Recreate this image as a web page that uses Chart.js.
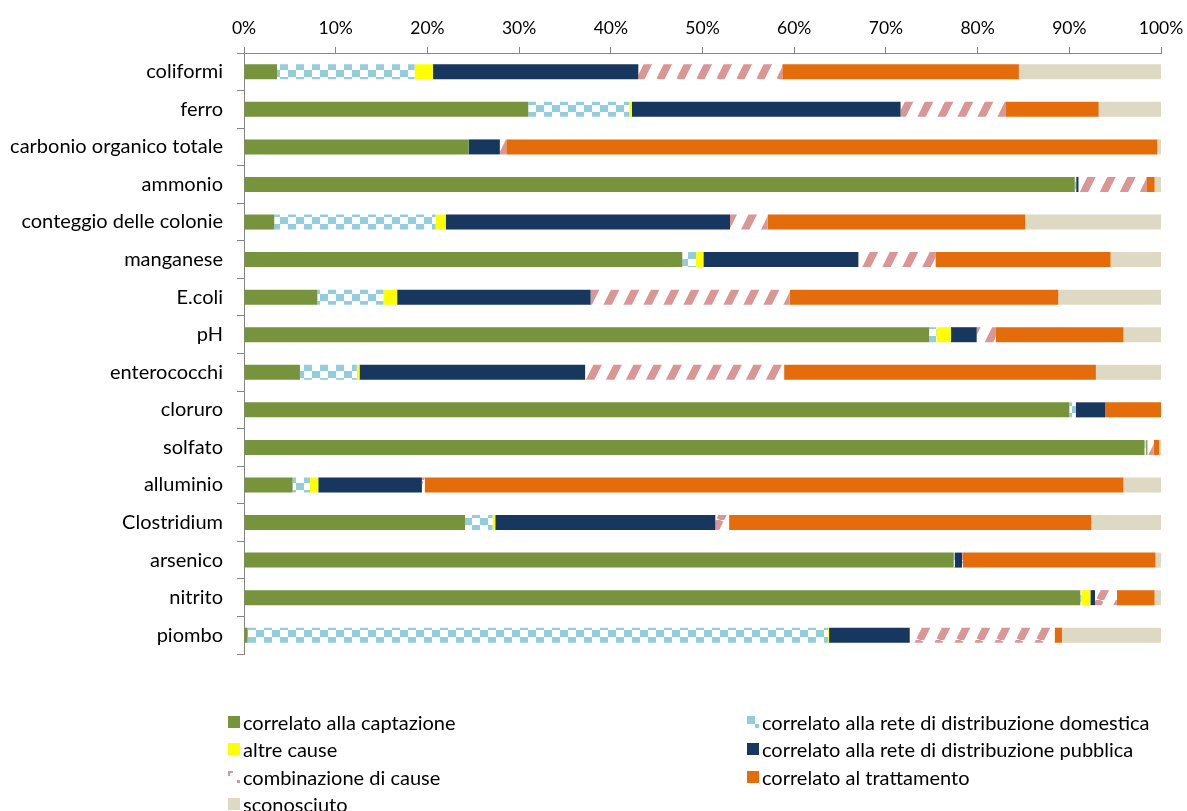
<!DOCTYPE html>
<html>
<head>
<meta charset="utf-8">
<script src="https://cdn.jsdelivr.net/npm/chart.js@4.4.1/dist/chart.umd.min.js"></script>
<style>
  html, body { margin: 0; padding: 0; background: #ffffff; }
  #wrap { position: relative; width: 1187px; height: 811px; }
  #legend { position: absolute; left: 0; top: 0; width: 1187px; height: 811px; pointer-events: none;
            font-family: Lato, "Open Sans", sans-serif; font-size: 20px; color: #000; }
  .item { position: absolute; height: 26px; line-height: 26px; white-space: nowrap; }
  .item canvas { position: absolute; left: 0; top: 7px; }
  .item span { position: absolute; left: 15px; top: 0; }
</style>
</head>
<body>
<div id="wrap">
  <canvas id="chart" width="1187" height="811"></canvas>
  <div id="legend"></div>
</div>
<script>
// ---- data ----
const categories = ['coliformi', 'ferro', 'carbonio organico totale', 'ammonio', 'conteggio delle colonie',
  'manganese', 'E.coli', 'pH', 'enterococchi', 'cloruro', 'solfato', 'alluminio', 'Clostridium',
  'arsenico', 'nitrito', 'piombo'];

const seriesNames = ['correlato alla captazione', 'correlato alla rete di distribuzione domestica',
  'altre cause', 'correlato alla rete di distribuzione pubblica', 'combinazione di cause',
  'correlato al trattamento', 'sconosciuto'];

const captazione   = [3.6, 31.0, 24.5, 90.6, 3.3, 47.8, 8.0, 74.7, 6.1, 90.0, 98.2, 5.3, 24.1, 77.4, 91.2, 0.4];
const domestica    = [15.0, 11.0, 0, 0.15, 17.6, 1.5, 7.2, 0.8, 6.2, 0.7, 0.1, 1.9, 3.0, 0.1, 0.1, 63.3];
const altreCause   = [2.0, 0.3, 0, 0, 1.1, 0.8, 1.5, 1.6, 0.3, 0, 0.1, 0.9, 0.3, 0, 1.0, 0.1];
const pubblica     = [22.4, 29.3, 3.4, 0.25, 31.0, 16.9, 21.1, 2.8, 24.6, 3.2, 0.1, 11.3, 24.0, 0.8, 0.5, 8.8];
const combinazione = [15.7, 11.5, 0.7, 7.4, 4.1, 8.4, 21.7, 2.1, 21.7, 0, 0.7, 0.3, 1.5, 0.1, 2.4, 15.8];
const trattamento  = [25.8, 10.1, 71.0, 0.9, 28.1, 19.1, 29.3, 13.9, 34.0, 6.1, 0.6, 76.2, 39.5, 21.0, 4.1, 0.8];
const sconosciuto  = [15.5, 6.8, 0.4, 0.7, 14.8, 5.5, 11.2, 4.1, 7.1, 0, 0.2, 4.1, 7.6, 0.6, 0.7, 10.8];

const tickLabels = ['0%', '10%', '20%', '30%', '40%', '50%', '60%', '70%', '80%', '90%', '100%'];

// ---- styles ----
const FONT = 'Lato, "Open Sans", sans-serif';
const AXIS = '#868686';

function checkerPattern() {
  const c = document.createElement('canvas'); c.width = 16; c.height = 14;
  const g = c.getContext('2d');
  g.fillStyle = '#ffffff'; g.fillRect(0, 0, 16, 14);
  g.fillStyle = '#93CDDD';
  g.fillRect(0, 0, 8, 7); g.fillRect(8, 7, 8, 7);
  return c;
}
function hatchPattern() {
  const c = document.createElement('canvas'); c.width = 20; c.height = 40;
  const g = c.getContext('2d');
  g.fillStyle = '#ffffff'; g.fillRect(0, 0, 20, 40);
  g.strokeStyle = '#D99694'; g.lineWidth = 7.5;
  for (let x0 = -20; x0 <= 20; x0 += 20) {
    g.beginPath(); g.moveTo(x0, 40); g.lineTo(x0 + 20, 0); g.stroke();
  }
  return c;
}
const ctx = document.getElementById('chart').getContext('2d');
const checkTile = checkerPattern();
const hatchTile = hatchPattern();
const fills = [
  '#77933C',
  ctx.createPattern(checkTile, 'repeat'),
  '#FFFF00',
  '#17375E',
  ctx.createPattern(hatchTile, 'repeat'),
  '#E46C0A',
  '#DDD9C3'
];
const seriesData = [captazione, domestica, altreCause, pubblica, combinazione, trattamento, sconosciuto];

const datasets = seriesData.map((d, i) => ({
  label: seriesNames[i],
  data: d,
  backgroundColor: fills[i],
  borderWidth: 0,
  barPercentage: 0.4,
  categoryPercentage: 1.0
}));

const CHART_LEFT = 244, CHART_TOP = 53;

new Chart(ctx, {
  type: 'bar',
  data: { labels: categories, datasets: datasets },
  options: {
    indexAxis: 'y',
    responsive: false,
    animation: false,
    layout: { padding: { left: 0, top: 0, right: 26, bottom: 157 } },
    plugins: { legend: { display: false }, tooltip: { enabled: false } },
    scales: {
      x: {
        position: 'top',
        stacked: true,
        min: 0, max: 100,
        ticks: {
          stepSize: 10,
          padding: 8,
          color: '#000',
          font: { family: FONT, size: 17.5 },
          callback: (v, i) => tickLabels[i]
        },
        grid: { drawOnChartArea: false, drawTicks: true, tickLength: 6, color: AXIS },
        border: { display: true, color: AXIS },
        afterFit: s => { s.height = CHART_TOP; s.paddingLeft = 0; s.paddingRight = 0; }
      },
      y: {
        stacked: true,
        ticks: {
          padding: 14,
          color: '#000',
          font: { family: FONT, size: 20 }
        },
        grid: { drawOnChartArea: false, drawTicks: true, tickLength: 7, color: AXIS, offset: true },
        border: { display: true, color: AXIS },
        afterFit: s => { s.width = CHART_LEFT; s.paddingTop = 0; s.paddingBottom = 0; }
      }
    }
  }
});

// ---- legend (HTML, two columns, row-major) ----
const legendPos = [
  [228, 709], [747, 709],
  [228, 736], [747, 736],
  [228, 764], [747, 764],
  [228, 791]
];
const legendEl = document.getElementById('legend');
seriesNames.forEach((name, i) => {
  const item = document.createElement('div');
  item.className = 'item';
  item.style.left = legendPos[i][0] + 'px';
  item.style.top = legendPos[i][1] + 'px';
  const sw = document.createElement('canvas');
  sw.width = 12; sw.height = 12;
  const g = sw.getContext('2d');
  if (i === 1) {
    g.fillStyle = '#93CDDD';
    g.fillRect(0, 0, 8, 8); g.fillRect(8, 8, 4, 4);
  } else if (i === 4) {
    g.fillStyle = '#D99694';
    g.fillRect(0, 0, 5, 2); g.fillRect(0, 0, 2, 5); g.fillRect(9, 9, 3, 3);
  } else {
    g.fillStyle = fills[i];
    g.fillRect(0, 0, 12, 12);
  }
  const tx = document.createElement('span');
  tx.textContent = name;
  item.appendChild(sw); item.appendChild(tx);
  legendEl.appendChild(item);
});
</script>
</body>
</html>
